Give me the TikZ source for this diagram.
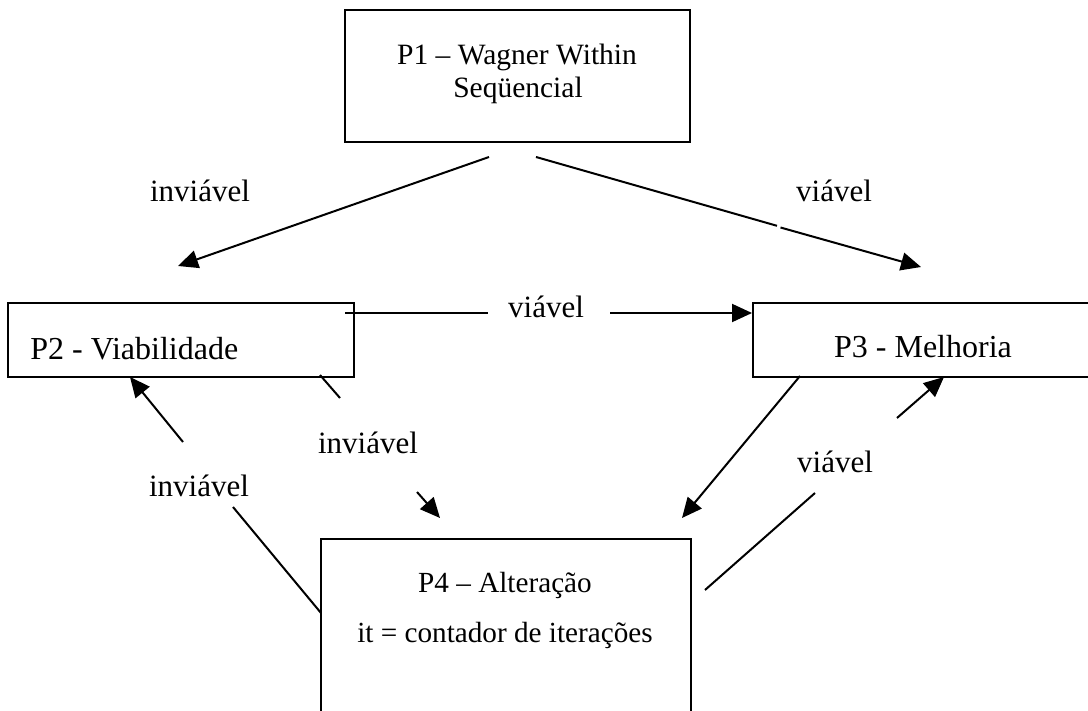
\documentclass[tikz,border=0pt]{standalone}
\usepackage{fontspec}
\setmainfont{Liberation Serif}
\usetikzlibrary{arrows.meta}
\begin{document}
\begin{tikzpicture}[x=0.5pt,y=-0.5pt,
  box/.style={draw,line width=1pt,rectangle,inner sep=0pt},
  txt/.style={inner sep=0pt,anchor=base,font=\fontsize{15.5}{18}\selectfont},
  boxlabel/.style={inner sep=0pt,anchor=base,font=\fontsize{16}{19}\selectfont},
  ttl/.style={inner sep=0pt,anchor=base,font=\fontsize{14.6}{17}\selectfont},
  toptitle/.style={inner sep=0pt,anchor=base,font=\fontsize{14.75}{17}\selectfont},
  conn/.style={line width=1pt},
  arr/.style={line width=1pt,-{Triangle[length=10pt,width=9pt]}}]
\useasboundingbox[fill=white] (0,0) rectangle (1088,711);

% process boxes
\node[box,minimum width=172.5pt,minimum height=66pt] (P1) at (517.5,76) {};
\node[box,minimum width=173pt,minimum height=37pt] (P2) at (181,340) {};
\node[box,minimum width=172.5pt,minimum height=37pt] (P3) at (925.5,340) {};
\node[box,minimum width=185pt,minimum height=91pt] (P4) at (506,630) {};

% box texts
\node[toptitle] (t1a) at (517,65) {P1 – Wagner Within};
\node[toptitle] (t1b) at (518,98) {Seqüencial};
\node[boxlabel,anchor=base west] (t2) at (30,360) {P2 - Viabilidade};
\node[boxlabel] (t3) at (923,358) {P3 - Melhoria};
\node[ttl] (t4a) at (505,592) {P4 – Alteração};
\node[ttl] (t4b) at (505,642) {it = contador de iterações};

% connector labels
\node[txt] (l1) at (200,202) {inviável};
\node[txt] (l2) at (834,202) {viável};
\node[txt] (l3) at (546,318) {viável};
\node[txt] (l4) at (368,453) {inviável};
\node[txt] (l5) at (199,496) {inviável};
\node[txt] (l6) at (835,473) {viável};

% connector end points
\coordinate (a1s) at (489,157);
\coordinate (a1e) at (178,266);
\coordinate (a2s) at (536,157);
\coordinate (a2m) at (777,225.8);
\coordinate (a2n) at (780.5,227.5);
\coordinate (a2e) at (921,267);
\coordinate (a3s) at (345,313);
\coordinate (a3m) at (488,313);
\coordinate (a3n) at (610,313);
\coordinate (a3e) at (752,313);
\coordinate (a4s) at (320,375);
\coordinate (a4m) at (340,398);
\coordinate (a4n) at (417,492);
\coordinate (a4e) at (440,518);
\coordinate (a5s) at (321,613);
\coordinate (a5m) at (233,507);
\coordinate (a5n) at (183,442);
\coordinate (a5e) at (130,377);
\coordinate (a6s) at (800,376);
\coordinate (a6e) at (682,518);
\coordinate (a7s) at (705,590);
\coordinate (a7m) at (815,493);
\coordinate (a7n) at (897,418);
\coordinate (a7e) at (944,377);

% connectors
\draw[arr] (a1s) -- (a1e);
\draw[conn] (a2s) -- (a2m);
\draw[arr] (a2n) -- (a2e);
\draw[conn] (a3s) -- (a3m);
\draw[arr] (a3n) -- (a3e);
\draw[conn] (a4s) -- (a4m);
\draw[arr] (a4n) -- (a4e);
\draw[conn] (a5s) -- (a5m);
\draw[arr] (a5n) -- (a5e);
\draw[arr] (a6s) -- (a6e);
\draw[conn] (a7s) -- (a7m);
\draw[arr] (a7n) -- (a7e);
\end{tikzpicture}
\end{document}
